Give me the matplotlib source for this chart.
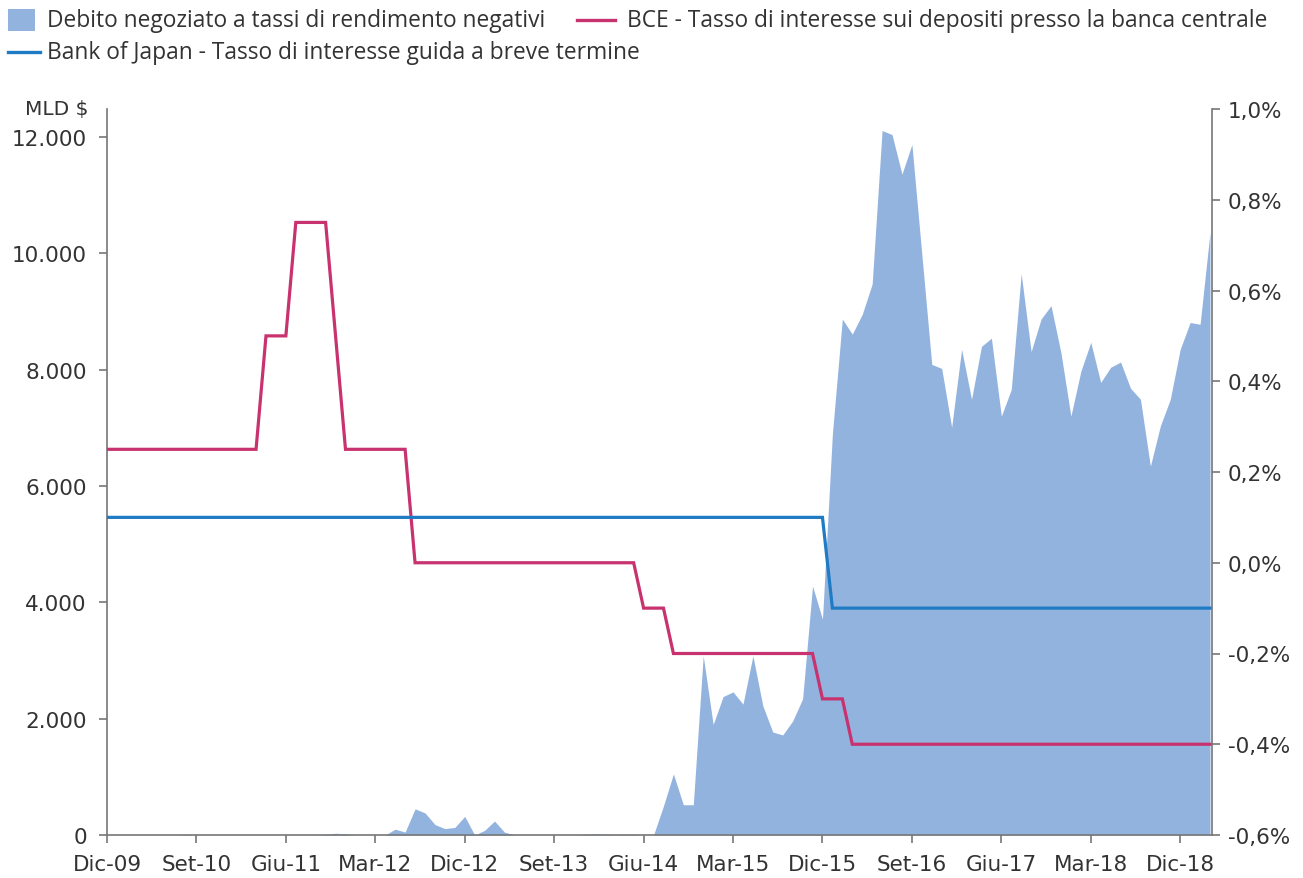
import matplotlib
matplotlib.use("Agg")
import matplotlib.pyplot as plt
from matplotlib.patches import Rectangle
from matplotlib.lines import Line2D
from matplotlib.ticker import FuncFormatter

# ---------------- data ----------------
# month index 0 = Dic-09
months = list(range(112))
tick_months = [0, 9, 18, 27, 36, 45, 54, 63, 72, 81, 90, 99, 108]
tick_labels = ["Dic-09", "Set-10", "Giu-11", "Mar-12", "Dic-12", "Set-13", "Giu-14",
               "Mar-15", "Dic-15", "Set-16", "Giu-17", "Mar-18", "Dic-18"]

# Debt traded at negative yields (MLD $), monthly
neg_debt = (
    [0, 0, 0, 0, 0, 0, 0, 0, 10, 0,                 # 0-9
     0, 0, 0, 0, 0, 0, 0, 0, 0, 0,                  # 10-19
     0, 0, 10, 30, 20, 0, 0, 0, 0, 100,             # 20-29
     50, 450, 380, 180, 110, 130, 320, 0, 80, 240,  # 30-39
     50, 0, 0, 0, 0, 0, 0, 0, 10, 20,               # 40-49
     15, 5, 15, 10, 0, 0, 500, 1050, 520, 520,      # 50-59
     3080, 1900, 2380, 2460, 2250, 3080, 2220, 1770, 1720, 1960,   # 60-69
     2340, 4280, 3710, 6900, 8870, 8610, 8950, 9470, 12110, 12040, # 70-79
     11360, 11870, 9980, 8090, 8020, 7010, 8350, 7490, 8400, 8540, # 80-89
     7200, 7660, 9650, 8310, 8870, 9100, 8290, 7200, 7970, 8470,   # 90-99
     7780, 8040, 8130, 7680, 7490, 6340, 7030, 7490, 8350, 8810,   # 100-109
     8780, 10360]                                                  # 110-111
)

# ECB deposit facility rate (%), monthly
bce_rate = ([0.25] * 16 + [0.50] * 3 + [0.75] * 4 + [0.50] * 1 + [0.25] * 7 +
            [0.00] * 23 + [-0.10] * 3 + [-0.20] * 15 + [-0.30] * 3 + [-0.40] * 37)

# Bank of Japan short-term policy rate (%), monthly
boj_rate = [0.10] * 73 + [-0.10] * 39

left_ticks = [0, 2000, 4000, 6000, 8000, 10000, 12000]
right_ticks = [-0.6, -0.4, -0.2, 0.0, 0.2, 0.4, 0.6, 0.8, 1.0]

# ---------------- style ----------------
AREA = "#93b3df"
BCE_C = "#c8326f"
BOJ_C = "#1f7bc4"
TXT = "#333333"
SPINE = "#777777"
TICK_FONT = ["DejaVu Sans"]
LEG_FONT = ["Open Sans", "DejaVu Sans"]
TICK_SIZE = 15.5
LEG_SIZE = 16.4

plt.rcParams["font.family"] = TICK_FONT

W, H = 1303, 879
fig = plt.figure(figsize=(W / 100, H / 100), dpi=100)
L, R, B, T = 107, 1212, 836, 110
ax = fig.add_axes([L / W, 1 - B / H, (R - L) / W, (B - T) / H])
ax2 = ax.twinx()

ax.fill_between(months, neg_debt, 0, color=AREA, linewidth=0, zorder=1)
ax2.plot(months, bce_rate, color=BCE_C, linewidth=2.3, solid_joinstyle="miter", zorder=3)
ax2.plot(months, boj_rate, color=BOJ_C, linewidth=2.3, solid_joinstyle="miter", zorder=3)

ax.set_xlim(0, 111.2)
ax.set_ylim(0, 12480)
ax2.set_ylim(-0.6, 1.0)

ax.set_xticks(tick_months)
ax.set_xticklabels(tick_labels)
ax.set_yticks(left_ticks)
ax.yaxis.set_major_formatter(FuncFormatter(lambda v, p: f"{int(v):,}".replace(",", ".")))
ax2.set_yticks(right_ticks)
ax2.yaxis.set_major_formatter(FuncFormatter(lambda v, p: f"{v:.1f}%".replace(".", ",")))

for a in (ax, ax2):
    a.spines["top"].set_visible(False)
    for s in ("left", "right", "bottom"):
        a.spines[s].set_color(SPINE)
        a.spines[s].set_linewidth(1.2)
    a.tick_params(colors=SPINE, labelcolor=TXT, labelsize=TICK_SIZE, length=5.5,
                  width=1.2, direction="out")
ax.spines["right"].set_visible(False)
ax2.spines["left"].set_visible(False)
ax2.spines["bottom"].set_visible(False)
ax.tick_params(axis="x", pad=8)
ax.tick_params(axis="y", pad=9)
ax2.tick_params(axis="y", pad=6)
ax.set_zorder(0)
ax2.set_zorder(1)
ax.patch.set_visible(False)

fig.text(88 / W, 1 - 110 / H, "MLD $", ha="right", va="center", fontsize=TICK_SIZE - 1,
         color=TXT)

# ---------------- legend (manual) ----------------
def fx(px):
    return px / W

def fy(py):
    return 1 - py / H

fig.add_artist(Rectangle((fx(8), fy(32)), fx(35) - fx(8), fy(10) - fy(32),
                         transform=fig.transFigure, color=AREA, linewidth=0))
fig.text(fx(47), fy(21), "Debito negoziato a tassi di rendimento negativi",
         ha="left", va="center", fontsize=LEG_SIZE, color=TXT, family=LEG_FONT)
fig.add_artist(Line2D([fx(577), fx(615)], [fy(21), fy(21)], transform=fig.transFigure,
                      color=BCE_C, linewidth=2.4))
fig.text(fx(627), fy(21), "BCE - Tasso di interesse sui depositi presso la banca centrale",
         ha="left", va="center", fontsize=LEG_SIZE, color=TXT, family=LEG_FONT)
fig.add_artist(Line2D([fx(8), fx(40)], [fy(53), fy(53)], transform=fig.transFigure,
                      color=BOJ_C, linewidth=2.4))
fig.text(fx(47), fy(53), "Bank of Japan - Tasso di interesse guida a breve termine",
         ha="left", va="center", fontsize=LEG_SIZE, color=TXT, family=LEG_FONT)

fig.savefig("out.png", dpi=100)
